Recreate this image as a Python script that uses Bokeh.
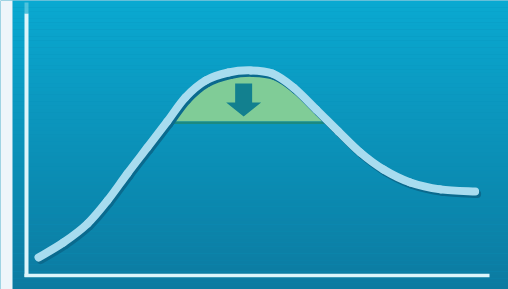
import numpy as np
from bokeh.plotting import figure
from bokeh.models import Range1d
from bokeh.embed import file_html
from bokeh.resources import INLINE

# ---- data (x: 0-100 along horizontal axis, y: 0-100 up the vertical axis) ----
curve_x = [2.6, 8.0, 13.2, 17.5, 21.8, 26.1, 30.4, 34.3, 38.7, 43.6, 48.4,
           53.1, 57.7, 62.6, 67.4, 72.1, 77.1, 82.9, 89.4, 96.9]
curve_y = [6.8, 12.5, 19.6, 28.3, 38.5, 48.3, 58.1, 67.2, 73.6, 76.6, 77.4,
           76.2, 70.9, 62.6, 54.3, 46.4, 40.0, 35.1, 32.5, 31.7]
band_level = 58.1          # bottom of the green band under the peak
arrow_x = 46.9
arrow_top = 72.5
arrow_neck = 65.3
arrow_tip = 60.0

# ---- layout mapping (pixels -> data) ----
W, H = 508, 289
X0, XW = 26.0, 463.0       # axis origin x px, px per 100 units
Y0, YH = 275.0, 265.0      # axis origin y px (from top), px per 100 units
def dx(px):
    return px / XW * 100.0
def dy(px):
    return px / YH * 100.0
def px2x(px):
    return (px - X0) / XW * 100.0
def py2y(py):
    return (Y0 - py) / YH * 100.0

p = figure(width=W, height=H, output_backend="svg", toolbar_location=None,
           x_range=Range1d(px2x(0), px2x(W)), y_range=Range1d(py2y(H), py2y(0)),
           x_axis_type=None, y_axis_type=None, min_border=0)
p.outline_line_color = None
p.grid.visible = False
p.background_fill_color = "#0b90b8"
p.border_fill_color = "#eef5fa"

# background gradient (vertical), blue panel from x=12px
top_c = np.array([0x0a, 0xa9, 0xd1], float)
bot_c = np.array([0x0c, 0x7a, 0xa0], float)
n = 80
tops, bots, cols = [], [], []
for i in range(n):
    t = (i + 0.5) / n
    c = top_c + (bot_c - top_c) * t
    cols.append("#%02x%02x%02x" % tuple(int(round(v)) for v in c))
    tops.append(py2y(H * i / n))
    bots.append(py2y(H * (i + 1) / n) - 0.05)
p.quad(left=px2x(12), right=px2x(W), top=tops, bottom=bots,
       fill_color=cols, line_color=None)
# light strip at the left
p.quad(left=px2x(0), right=px2x(12), top=py2y(0), bottom=py2y(H),
       fill_color="#eef5fa", line_color=None)

# axes
p.segment(x0=[0], y0=[py2y(13)], x1=[0], y1=[py2y(276.5)],
          line_color="#dcf5fb", line_width=4)
p.segment(x0=[0], y0=[py2y(2)], x1=[0], y1=[py2y(13)],
          line_color="#7fd6e6", line_width=4, line_alpha=0.6)
p.segment(x0=[px2x(24)], y0=[0], x1=[100], y1=[0],
          line_color="#dcf5fb", line_width=3.5)

# green band under the peak
cx = np.array(curve_x)
cy = np.array(curve_y)
ipk = int(np.argmax(cy))
xl = np.interp(band_level, cy[:ipk + 1], cx[:ipk + 1])
xr = np.interp(band_level, cy[ipk:][::-1], cx[ipk:][::-1])
mask = cy > band_level
bx = [xl] + list(cx[mask]) + [xr]
by = [band_level] + list(cy[mask]) + [band_level]
p.patch(bx, by, fill_color="#80cc97", line_color=None)
p.segment(x0=[xl], y0=[band_level - dy(1.2)], x1=[xr], y1=[band_level - dy(1.2)],
          line_color="#1c8a80", line_width=2.5)

# arrow
sw, hw = dx(8.5), dx(17.5)
ax = [arrow_x - sw, arrow_x + sw, arrow_x + sw, arrow_x + hw, arrow_x,
      arrow_x - hw, arrow_x - sw]
ay = [arrow_top, arrow_top, arrow_neck, arrow_neck, arrow_tip, arrow_neck,
      arrow_neck]
p.patch(ax, ay, fill_color="#12808f", line_color=None)

# smooth curve through the read points (Catmull-Rom drawn as Bezier segments)
def smooth_segments(xs, ys):
    P = np.column_stack([xs, ys])
    Pp = np.vstack([P[0], P, P[-1]])
    a = Pp[1:-2]; b = Pp[2:-1]
    prev = Pp[:-3]; nxt = Pp[3:]
    c0 = a + (b - prev) / 6.0
    c1 = b - (nxt - a) / 6.0
    return dict(x0=a[:, 0], y0=a[:, 1], x1=b[:, 0], y1=b[:, 1],
                cx0=c0[:, 0], cy0=c0[:, 1], cx1=c1[:, 0], cy1=c1[:, 1])

shadow = smooth_segments(cx + dx(2), cy - dy(2.5))
p.bezier(**shadow, line_color="#0a6a8e", line_width=8, line_cap="round")
main = smooth_segments(cx, cy)
p.bezier(**main, line_color="#a8dcef", line_width=8, line_cap="round")

html = file_html(p, INLINE)
html = html.replace("<head>", "<head><style>html,body{margin:0;padding:0;overflow:hidden}</style>", 1)
open("out.html", "w").write(html)
